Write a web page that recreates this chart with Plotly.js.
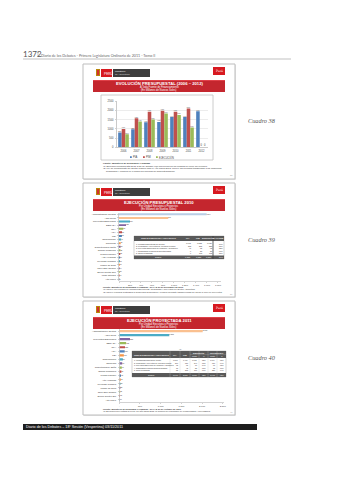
<!DOCTYPE html>
<html><head><meta charset="utf-8">
<script src="https://cdn.plot.ly/plotly-3.0.1.min.js"></script>
<style>html,body{margin:0;padding:0;background:#fff}#c{width:339px;height:480px}</style>
</head><body><div id="c"></div>
<script>
// ---------- DATA ----------
const years = ['2006','2007','2008','2009','2010','2011','2012'];
const seriesNames = ['PIA','PIM','EJECUCIÓN'];
const pia  = [800, 980, 1360, 1380, 1640, 1640, 1960];
const pim  = [1000, 1580, 1930, 1980, 1930, 2110, 0];
const ejec = [710, 1400, 1510, 1840, 1760, 1070, 0];
const yTicks1 = [0, 500, 1000, 1500, 2000, 2500];

const units2 = ['Administración Central','Agro Rural','Proyectos Especiales','SENASA','INIA','ANA','PSI',
  'Chavimochic','Chinecas','Jequetepeque-Zaña','Olmos-Tinajones','Pichis Palcazu','Alto Huallaga',
  'Puyango Tumbes','Madre de Dios','Jaén San Ignacio','Sierra Centro Sur','Lago Titicaca','Alto Mayo'];
const exec2 = [1594, 896, 200, 128, 78, 55, 52, 40, 30, 28, 25, 22, 20, 18, 16, 14, 12, 10, 8];
const xTicks2 = [0, 200, 400, 600, 800, 1000, 1200, 1400, 1600, 1800];
const xTickText2 = ['-', '200', '400', '600', '800', '1,000', '1,200', '1,400', '1,600', '1,800'];

const tab1Head = ['UNIDAD EJECUTORA / PROYECTOS', 'PIA', 'PIM', 'EJECUCIÓN', '% AVANCE'];
const tab1Rows = ['1. Unidades Ejecutoras del Sector', '2. Programas y Proyectos de Inversión Pública',
  '3. Proyectos Especiales de Irrigación y Desarrollo', '4. Organismos Públicos Descentralizados', '5. Otros Programas'];
const tab1Pia  = [1095, 213, 41, 6, 0];
const tab1Pim  = [1222, 275, 75, 58, 198];
const tab1Ejec = [1026, 238, 62, 38, 172];
const tab1Pct  = ['84%', '87%', '83%', '66%', '87%'];

const units3 = ['Administración Central','Agro Rural','Proyectos Especiales','SENASA','INIA','ANA','PSI',
  'Chavimochic','Chinecas','Jequetepeque-Zaña','Olmos-Tinajones','Pichis Palcazu','Alto Huallaga',
  'Puyango Tumbes','Madre de Dios','Jaén San Ignacio','Sierra Centro Sur','Alto Mayo'];
const proj3 = [2015, 1208, 258, 165, 138, 130, 110, 86, 70, 60, 50, 42, 36, 30, 25, 20, 15, 10];
const xTicks3 = [0, 500, 1000, 1500, 2000, 2500];
const xTickText3 = ['-', '500', '1,000', '1,500', '2,000', '2,500'];

const tab2Head = ['UNIDAD EJECUTORA / PROYECTOS', 'PIA', 'PIM', 'Monto', '%', 'Monto', '%'];
const tab2Rows = ['1. Unidades Ejecutoras del Sector', '2. Programas y Proyectos de Inversión Pública',
  '3. Proyectos Especiales de Irrigación y Desarrollo', '4. Organismos Públicos Descentralizados', '5. Otros Programas'];
const tab2Pia  = [1248, 260, 62, 18, 52];
const tab2Pim  = [1410, 330, 95, 42, 233];
const tab2Ejec = [1012, 240, 70, 28, 160];
const tab2EPct = ['72%', '73%', '74%', '67%', '69%'];
const tab2Proy = [1340, 310, 90, 38, 220];
const tab2PPct = ['95%', '94%', '95%', '90%', '94%'];

// ---------- HELPERS ----------
const W = 339, H = 480;
const px = x => x / W, py = y => 1 - y / H;
const F = 'Liberation Sans, Arial, sans-serif';
const shapes = [], ann = [];
function R(x0, y0, x1, y1, fill, line, lw) {
  shapes.push({type: 'rect', xref: 'paper', yref: 'paper', x0: px(x0), x1: px(x1), y0: py(y1), y1: py(y0),
    fillcolor: fill || 'rgba(0,0,0,0)', line: {color: line || 'rgba(0,0,0,0)', width: lw || 0}, layer: 'below'});
}
function L(x0, y0, x1, y1, color, lw, layer) {
  shapes.push({type: 'line', xref: 'paper', yref: 'paper', x0: px(x0), x1: px(x1), y0: py(y0), y1: py(y1),
    line: {color: color, width: lw}, layer: layer || 'above'});
}
function T(x, y, text, size, color, o) {
  ann.push(Object.assign({xref: 'paper', yref: 'paper', x: px(x), y: py(y), text: text, showarrow: false,
    font: {size: size, color: color || '#333', family: F}, xanchor: 'left', yanchor: 'middle', borderpad: 0}, o || {}));
}
const fmt = v => v.toLocaleString('en-US');

// ---------- PAGE HEADER / FOOTER ----------
T(22, 54, '1372', 8, '#555', {font: {size: 8, color: '#555', family: 'Lato, DejaVu Sans, sans-serif'}});
T(40, 55, 'Diario de los Debates - Primera Legislatura Ordinaria de 2011 - Tomo II', 3.7, '#666',
  {font: {size: 3.7, color: '#666', family: 'Lato, sans-serif'}});
L(38, 51, 38, 57, '#888', 0.5);
L(23, 59, 291, 59, '#999', 0.6);
R(23, 424, 257, 430, '#1e1e1e');
T(25, 427, 'Diario de los Debates – 18ª Sesión (Vespertina) 03/11/2011', 3.7, '#fff');

// ---------- SLIDE FRAMES ----------
function slide(y0, y1, title, sub1, sub2) {
  R(84, y0 + 1, 236, y1 + 1, '#e6e6e6');
  R(83, y0, 235, y1, '#ffffff', '#bdbdbd', 1);
  // left logo
  R(96, y0 + 5, 100, y0 + 12, '#b8860b');
  R(97, y0 + 6, 99, y0 + 11, '#d32f2f');
  R(101, y0 + 5, 112, y0 + 13, '#d71920');
  T(103, y0 + 9, 'PERÚ', 3.2, '#fff', {font: {size: 3.2, color: '#fff', family: F}});
  R(113, y0 + 5, 150, y0 + 13, '#3d3d3d');
  T(114, y0 + 7.5, 'Ministerio', 2.4, '#fff');
  T(114, y0 + 10.5, 'de Agricultura', 2.4, '#ddd');
  // right logo
  R(213, y0 + 3, 225, y0 + 11, '#d71920');
  T(219, y0 + 7, 'Perú', 3, '#fff', {xanchor: 'center', font: {size: 3, color: '#fff', family: 'DejaVu Serif, serif'}});
  // title bar
  R(93, y0 + 16, 225, y0 + 28, '#c4262e');
  R(93, y0 + 16, 225, y0 + 17, '#e04048');
  T(159, y0 + 19.5, '<b>' + title + '</b>', 4.2, '#fff', {xanchor: 'center'});
  T(159, y0 + 23.2, sub1, 2.6, '#fff', {xanchor: 'center'});
  T(159, y0 + 25.8, sub2, 2.6, '#fff', {xanchor: 'center'});
}
slide(64, 179, 'EVOLUCIÓN PRESUPUESTAL (2006 – 2012)', 'A Toda Fuente de Financiamiento', '(En Millones de Nuevos Soles)');
slide(183, 297, 'EJECUCIÓN PRESUPUESTAL 2010', 'Por Unidad Ejecutora y Proyectos', '(En Millones de Nuevos Soles)');
slide(301, 415, 'EJECUCIÓN PROYECTADA 2011', 'Por Unidad Ejecutora y Proyectos', '(En Millones de Nuevos Soles)');

// chart 1 box
R(101, 95, 213, 160, '#ffffff', '#bfbfbf', 0.8);

// ---------- SIDE LABELS ----------
const cuadro = {font: {size: 6.3, color: '#555555', family: 'Liberation Serif, DejaVu Serif, serif'}};
T(247, 120, '<i>Cuadro 38</i>', 6.3, '#555', cuadro);
T(247, 239, '<i>Cuadro 39</i>', 6.3, '#555', cuadro);
T(247, 357, '<i>Cuadro 40</i>', 6.3, '#555', cuadro);

// ---------- CHART 1 LEGEND + NOTES ----------
const legCol = ['#4f81bd', '#c0504d', '#9bbb59'];
const legX = [130, 143, 156];
seriesNames.forEach((n, i) => {
  R(legX[i], 156.3, legX[i] + 1.8, 158.1, legCol[i]);
  T(legX[i] + 2.3, 157.2, n, 2.6, '#444');
});
T(102, 163.5, '<b>Fuente: Ministerio de Economía y Finanzas</b>', 2.3, '#333');
T(102, 166, '(1) Ejecución Presupuestal 2011 al 31 de Octubre con proyección del devengado al cierre del ejercicio.', 2.3, '#333');
T(102, 168.5, '(2) Ley de Presupuesto del Sector Público para el Año Fiscal 2012, incluye los recursos transferidos a los Gobiernos', 2.3, '#333');
T(105, 171, 'Regionales y Locales en el marco del proceso de descentralización.', 2.3, '#333');
T(229, 175, '38', 2.2, '#999');

// ---------- TABLE 1 ----------
(function () {
  const x = [134, 183, 193, 203, 213, 224];
  R(134, 236, 224, 259, '#ffffff', '#a6a6a6', 0.5);
  R(134, 236, 224, 241, '#595959');
  tab1Head.forEach((h, i) => T((x[i] + x[i + 1]) / 2, 238.5, '<b>' + h + '</b>', 2, '#fff', {xanchor: 'center'}));
  tab1Rows.forEach((r, j) => {
    const y = 243.5 + j * 2.4;
    T(135, y, r, 1.9, '#333');
    T(192.5, y, fmt(tab1Pia[j]), 1.9, '#333', {xanchor: 'right'});
    T(202.5, y, fmt(tab1Pim[j]), 1.9, '#333', {xanchor: 'right'});
    T(212.5, y, fmt(tab1Ejec[j]), 1.9, '#333', {xanchor: 'right'});
    T(223.5, y, tab1Pct[j], 1.9, '#333', {xanchor: 'right'});
  });
  const sum = a => a.reduce((s, v) => s + v, 0);
  R(134, 255.5, 224, 259, '#595959');
  T(158, 257.2, '<b>TOTAL</b>', 2, '#fff', {xanchor: 'center'});
  T(192.5, 257.2, fmt(sum(tab1Pia)), 2, '#fff', {xanchor: 'right'});
  T(202.5, 257.2, fmt(sum(tab1Pim)), 2, '#fff', {xanchor: 'right'});
  T(212.5, 257.2, fmt(sum(tab1Ejec)), 2, '#fff', {xanchor: 'right'});
  T(223.5, 257.2, Math.round(100 * sum(tab1Ejec) / sum(tab1Pim)) + '%', 2, '#fff', {xanchor: 'right'});
  L(213, 236, 213, 259, '#404040', 0.8);
})();
T(102, 287, '<b>Fuente: Ministerio de Economía y Finanzas - SIAF al 31 de Diciembre de 2010</b>', 2.2, '#333');
T(102, 289.5, '(1) Incluye los recursos de Unidades Ejecutoras, Programas y Proyectos del Sector Agricultura.', 2.2, '#333');
T(102, 292, '(2) Incluye recursos destinados a Gobiernos Regionales y Locales mediante transferencias del Pliego a nivel de Proyectos.', 2.2, '#333');
T(229, 294, '39', 2.2, '#999');

// ---------- TABLE 2 ----------
(function () {
  const x = [132, 170, 180, 190, 199, 208, 217, 226];
  T(180, 348.5, '(1)', 2, '#555', {xanchor: 'center'});
  R(132, 351, 226, 377, '#ffffff', '#a6a6a6', 0.5);
  R(132, 351, 226, 358, '#595959');
  T(151, 354.5, '<b>' + tab2Head[0] + '</b>', 2, '#fff', {xanchor: 'center'});
  T(175, 354.5, '<b>' + tab2Head[1] + '</b>', 2, '#fff', {xanchor: 'center'});
  T(185, 354.5, '<b>' + tab2Head[2] + '</b>', 2, '#fff', {xanchor: 'center'});
  T(199, 352.7, '<b>EJECUCIÓN</b>', 1.9, '#fff', {xanchor: 'center'});
  T(217, 352.7, '<b>PROYECTADO</b>', 1.9, '#fff', {xanchor: 'center'});
  L(190, 354.3, 226, 354.3, '#bbb', 0.3);
  [3, 4, 5, 6].forEach(i => T((x[i] + x[i + 1]) / 2, 356.3, tab2Head[i], 1.8, '#fff', {xanchor: 'center'}));
  for (let i = 1; i < 7; i++) L(x[i], 351, x[i], 377, '#bfbfbf', 0.3);
  tab2Rows.forEach((r, j) => {
    const y = 360 + j * 2.6;
    T(133, y, r, 1.8, '#333');
    const vals = [fmt(tab2Pia[j]), fmt(tab2Pim[j]), fmt(tab2Ejec[j]), tab2EPct[j], fmt(tab2Proy[j]), tab2PPct[j]];
    vals.forEach((v, i) => T(x[i + 2] - 0.6, y, v, 1.8, '#333', {xanchor: 'right'}));
  });
  const sum = a => a.reduce((s, v) => s + v, 0);
  R(132, 373, 226, 377, '#595959');
  T(151, 375, '<b>TOTAL</b>', 2, '#fff', {xanchor: 'center'});
  const tv = [fmt(sum(tab2Pia)), fmt(sum(tab2Pim)), fmt(sum(tab2Ejec)),
    Math.round(100 * sum(tab2Ejec) / sum(tab2Pim)) + '%', fmt(sum(tab2Proy)),
    Math.round(100 * sum(tab2Proy) / sum(tab2Pim)) + '%'];
  tv.forEach((v, i) => T(x[i + 2] - 0.6, 375, v, 1.9, '#fff', {xanchor: 'right'}));
})();
T(102, 408.5, '<b>Fuente: Ministerio de Economía y Finanzas - SIAF al 31 de Octubre de 2011</b>', 2.2, '#333');
T(102, 411, '(1) Ejecución proyectada al cierre del año fiscal 2011 en función del calendario de compromisos y devengados.', 2.2, '#333');
T(229, 412, '40', 2.2, '#999');

// ---------- TRACES ----------
const pal = ['#4f81bd', '#c0504d', '#9bbb59'];
const col2 = ['#b9cde5', '#fac090', '#4bacc6', '#8064a2', '#9bbb59', '#c0504d', '#4f81bd', '#4bacc6',
  '#f79646', '#8064a2', '#9bbb59', '#c0504d', '#4f81bd', '#4bacc6', '#f79646', '#8064a2', '#9bbb59', '#c0504d', '#4f81bd'];
const col3 = ['#fac090', '#4bacc6', '#8064a2', '#9bbb59', '#c0504d', '#4f81bd', '#f79646', '#4bacc6',
  '#8064a2', '#9bbb59', '#c0504d', '#4f81bd', '#f79646', '#4bacc6', '#8064a2', '#9bbb59', '#c0504d', '#4f81bd'];

const barTxt = {size: 2.6, color: '#333', family: F};
const traces = [
  {type: 'bar', x: years, y: pia, name: seriesNames[0], marker: {color: pal[0]}, xaxis: 'x', yaxis: 'y',
    texttemplate: '%{y:,.0f}', textposition: 'outside', textfont: barTxt, cliponaxis: false},
  {type: 'bar', x: years, y: pim, name: seriesNames[1], marker: {color: pal[1]}, xaxis: 'x', yaxis: 'y',
    texttemplate: '%{y:,.0f}', textposition: 'outside', textfont: barTxt, cliponaxis: false},
  {type: 'bar', x: years, y: ejec, name: seriesNames[2], marker: {color: pal[2]}, xaxis: 'x', yaxis: 'y',
    texttemplate: '%{y:,.0f}', textposition: 'outside', textfont: barTxt, cliponaxis: false},
  {type: 'bar', orientation: 'h', y: units2, x: exec2, marker: {color: col2}, xaxis: 'x2', yaxis: 'y2', width: 0.55,
    texttemplate: '%{x:,.0f}', textposition: 'outside', textfont: {size: 2.4, color: '#333', family: F}, cliponaxis: false},
  {type: 'bar', orientation: 'h', y: units3, x: proj3, marker: {color: col3}, xaxis: 'x3', yaxis: 'y3', width: 0.55,
    texttemplate: '%{x:,.0f}', textposition: 'outside', textfont: {size: 2.4, color: '#333', family: F}, cliponaxis: false}
];

const tf = {size: 2.6, color: '#444', family: F};
const layout = {
  width: W, height: H, margin: {l: 0, r: 0, t: 0, b: 0}, paper_bgcolor: '#fff', plot_bgcolor: 'rgba(0,0,0,0)',
  showlegend: false, barmode: 'group', bargap: 0.18, bargroupgap: 0,
  font: {family: F},
  xaxis: {domain: [px(117), px(208)], anchor: 'y', type: 'category', tickfont: tf, ticks: '', showline: true,
    linecolor: '#a6a6a6', linewidth: 0.6, ticklabelstandoff: 1, fixedrange: true},
  yaxis: {domain: [py(147.3), py(101.3)], anchor: 'x', range: [0, 2500], tickvals: yTicks1, tickfont: tf,
    showgrid: true, gridcolor: '#d9d9d9', gridwidth: 0.5, showline: true, linecolor: '#a6a6a6', linewidth: 0.6,
    ticks: 'outside', ticklen: 1.5, tickcolor: '#a6a6a6', tickwidth: 0.5, zeroline: false, ticklabelstandoff: 1},
  xaxis2: {domain: [px(119), px(221)], anchor: 'y2', range: [0, 1855], tickvals: xTicks2, ticktext: xTickText2,
    tickfont: {size: 2.4, color: '#444', family: F}, showgrid: false, zeroline: false, showline: true,
    linecolor: '#a6a6a6', linewidth: 0.5, ticks: 'outside', ticklen: 1.2, tickcolor: '#a6a6a6', tickwidth: 0.5},
  yaxis2: {domain: [py(281), py(212.5)], anchor: 'x2', type: 'category', autorange: 'reversed',
    tickfont: {size: 2.4, color: '#333', family: F}, showline: true, linecolor: '#a6a6a6', linewidth: 0.5,
    ticks: 'outside', ticklen: 1.2, tickcolor: '#a6a6a6', tickwidth: 0.5, ticklabelstandoff: 1},
  xaxis3: {domain: [px(119.3), px(224)], anchor: 'y3', range: [0, 2530], tickvals: xTicks3, ticktext: xTickText3,
    tickfont: {size: 2.4, color: '#444', family: F}, showgrid: false, zeroline: false, showline: true,
    linecolor: '#a6a6a6', linewidth: 0.5, ticks: 'outside', ticklen: 1.2, tickcolor: '#a6a6a6', tickwidth: 0.5},
  yaxis3: {domain: [py(402), py(329)], anchor: 'x3', type: 'category', autorange: 'reversed',
    tickfont: {size: 2.4, color: '#333', family: F}, showline: true, linecolor: '#a6a6a6', linewidth: 0.5,
    ticks: 'outside', ticklen: 1.2, tickcolor: '#a6a6a6', tickwidth: 0.5, ticklabelstandoff: 1},
  shapes: shapes, annotations: ann
};
Plotly.newPlot('c', traces, layout, {staticPlot: true, displayModeBar: false});
</script></body></html>
